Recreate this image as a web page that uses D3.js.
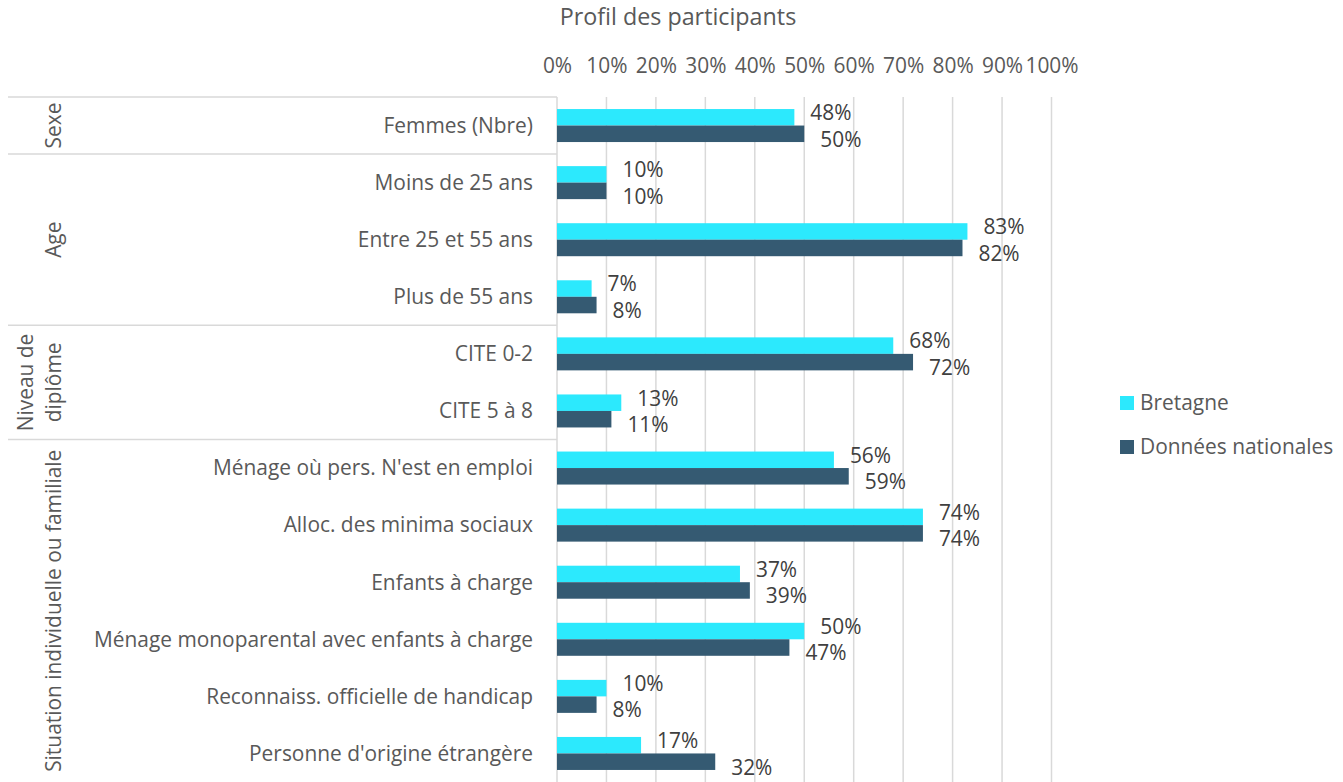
<!DOCTYPE html>
<html>
<head>
<meta charset="utf-8">
<script src="https://cdn.jsdelivr.net/npm/d3@7"></script>
<style>
  html, body { margin: 0; padding: 0; background: #fff; }
  svg { display: block; font-family: "Open Sans", "Noto Sans", sans-serif; }
</style>
</head>
<body>
<svg id="chart" width="1343" height="782"></svg>
<script>
// Participant profile: Bretagne vs national figures
const categories = [
  "Femmes (Nbre)",
  "Moins de 25 ans",
  "Entre 25 et 55 ans",
  "Plus de 55 ans",
  "CITE 0-2",
  "CITE 5 à 8",
  "Ménage où pers. N'est en emploi",
  "Alloc. des minima sociaux",
  "Enfants à charge",
  "Ménage monoparental avec enfants à charge",
  "Reconnaiss. officielle de handicap",
  "Personne d'origine étrangère"
];
const bretagne  = [0.48, 0.10, 0.83, 0.07, 0.68, 0.13, 0.56, 0.74, 0.37, 0.50, 0.10, 0.17];
const nationale = [0.50, 0.10, 0.82, 0.08, 0.72, 0.11, 0.59, 0.74, 0.39, 0.47, 0.08, 0.32];
const seriesNames = ["Bretagne", "Données nationales"];
const groupNames = [["Sexe"], ["Age"], ["Niveau de", "diplôme"], ["Situation individuelle ou familiale"]];
const groupSizes = [1, 3, 2, 6];
const tickValues = [0, 0.1, 0.2, 0.3, 0.4, 0.5, 0.6, 0.7, 0.8, 0.9, 1];

const colors = ["#2CE9FD", "#355A72"];
const gridColor = "#d9d9d9";
const textColor = "#595959";
const labelColor = "#404040";
const fontSize = "20.9px";

const svg = d3.select("#chart");

const x = d3.scaleLinear().domain([0, 1]).range([557, 1051.5]);
const y = d3.scaleBand().domain(categories).range([97, 782]).padding(0);
const barH = 16.5;

// title
svg.append("text")
  .attr("x", 678).attr("y", 25)
  .attr("text-anchor", "middle")
  .attr("fill", textColor)
  .style("font-size", "23.3px")
  .text("Profil des participants");

// vertical gridlines
svg.append("g")
  .selectAll("line")
  .data(tickValues)
  .join("line")
  .attr("x1", d => x(d)).attr("x2", d => x(d))
  .attr("y1", 97).attr("y2", 782)
  .attr("stroke", gridColor)
  .attr("stroke-width", 1.5);

// top percentage axis
const axis = svg.append("g")
  .attr("transform", "translate(0,66)")
  .call(d3.axisTop(x).tickValues(tickValues).tickFormat(d3.format(".0%")).tickSize(0).tickPadding(0));
axis.select(".domain").remove();
axis.selectAll("text")
  .attr("fill", textColor)
  .attr("dy", "0.35em")
  .style("font-size", fontSize)
  .style("font-family", "\"Open Sans\", sans-serif");

// group separators
let acc = 0;
const bounds = [0];
groupSizes.forEach(n => { acc += n; bounds.push(acc); });
svg.append("g")
  .selectAll("line")
  .data(bounds.slice(0, -1))
  .join("line")
  .attr("x1", 8).attr("x2", 557)
  .attr("y1", i => y(categories[i])).attr("y2", i => y(categories[i]))
  .attr("stroke", gridColor)
  .attr("stroke-width", 1.5);

// group titles (rotated)
groupNames.forEach((lines, gi) => {
  const top = y(categories[bounds[gi]]);
  const bottom = y(categories[bounds[gi + 1] - 1]) + y.bandwidth();
  const cy = (top + bottom) / 2;
  const lineGap = 28;
  const t = svg.append("text")
    .attr("transform", `translate(${54 - (lines.length - 1) * lineGap},${cy}) rotate(-90)`)
    .attr("text-anchor", "middle")
    .attr("fill", textColor)
    .style("font-size", fontSize);
  lines.forEach((ln, li) => {
    t.append("tspan")
      .attr("x", 0)
      .attr("y", li * lineGap)
      .attr("dy", "0.35em")
      .text(ln);
  });
});

// category labels
svg.append("g")
  .selectAll("text")
  .data(categories)
  .join("text")
  .attr("x", 533)
  .attr("y", d => y(d) + y.bandwidth() / 2)
  .attr("dy", "0.35em")
  .attr("text-anchor", "end")
  .attr("fill", textColor)
  .style("font-size", fontSize)
  .text(d => d);

// bars and value labels
const series = [bretagne, nationale];
const labelShift = [-4.5, 5.5];
series.forEach((vals, si) => {
  const rows = categories.map((c, i) => ({ c, v: vals[i] }));
  svg.append("g")
    .selectAll("rect")
    .data(rows)
    .join("rect")
    .attr("x", x(0))
    .attr("y", d => y(d.c) + y.bandwidth() / 2 - barH + si * barH)
    .attr("width", d => x(d.v) - x(0))
    .attr("height", barH)
    .attr("fill", colors[si]);

  svg.append("g")
    .selectAll("text")
    .data(rows)
    .join("text")
    .attr("x", d => x(d.v) + 16)
    .attr("y", d => y(d.c) + y.bandwidth() / 2 - barH / 2 + si * barH + labelShift[si])
    .attr("dy", "0.35em")
    .attr("fill", labelColor)
    .style("font-size", fontSize)
    .text(d => d3.format(".0%")(d.v));
});

// legend
const legend = svg.append("g");
seriesNames.forEach((name, i) => {
  const ly = 403 + i * 44;
  legend.append("rect")
    .attr("x", 1120).attr("y", ly - 7)
    .attr("width", 14).attr("height", 14)
    .attr("fill", colors[i]);
  legend.append("text")
    .attr("x", 1140).attr("y", ly)
    .attr("dy", "0.35em")
    .attr("fill", textColor)
    .style("font-size", fontSize)
    .text(name);
});
</script>
</body>
</html>
